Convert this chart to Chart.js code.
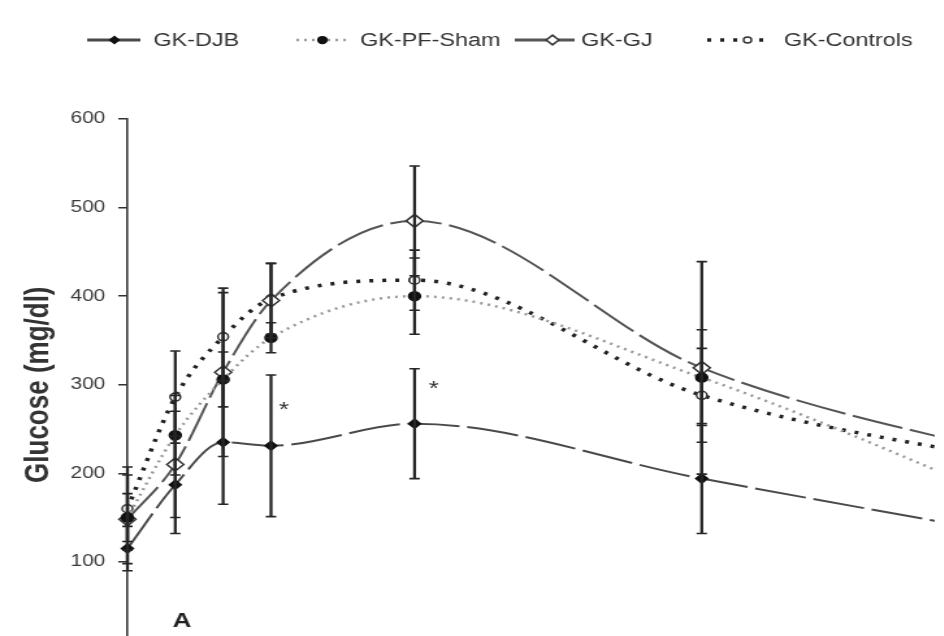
<!DOCTYPE html>
<html>
<head>
<meta charset="utf-8">
<script src="https://cdn.jsdelivr.net/npm/chart.js@4.4.1/dist/chart.umd.min.js"></script>
<style>
  html, body { margin: 0; padding: 0; background: #fff; }
  #wrap { width: 944px; height: 636px; overflow: hidden; position: relative; background: #fff; }
  /* the scanned figure is stretched sideways, so is the canvas */
  #glucoseChart { position: absolute; left: 0; top: 0; transform: scaleX(1.3); transform-origin: 0 0; }
</style>
</head>
<body>
<div id="wrap"><canvas id="glucoseChart" width="727" height="670"></canvas></div>
<script>
const times       = [0, 15, 30, 45, 90, 180, 300];
const seriesNames = ["GK-DJB", "GK-PF-Sham", "GK-GJ", "GK-Controls"];

const djb      = [115, 187, 235, 231, 256, 194, 116];
const pfSham   = [150, 243, 306, 353, 400, 308, 133];
const gj       = [148, 210, 314, 395, 485, 319, 201];
const controls = [160, 286, 354, 397, 418, 288, 199];

const djbErr      = [25, 55, 70, 80, 62, 62, 40];
const pfShamErr   = [27, 45, 31, 17, 43, 54, 40];
const gjErr       = [50, 60, 95, 42, 62, 120, 40];
const controlsErr = [47, 52, 50, 40, 34, 53, 40];

const yTicks     = [0, 100, 200, 300, 400, 500, 600];
const starTimes  = [49, 96];
const starValues = [277, 300];
const panelLabel = "A";

const seriesValues = [djb, pfSham, gj, controls];
const seriesErrors = [djbErr, pfShamErr, gjErr, controlsErr];

const styles = [
  { color: "#4a4a4a", width: 2,   dash: [40, 6], point: "rectRot", radius: 4.5, fill: "#111", stroke: "#111" },
  { color: "#9a9a9a", width: 2.5, dash: [2, 4],  point: "circle",  radius: 4.5, fill: "#111", stroke: "#111" },
  { color: "#555555", width: 2,   dash: [40, 6], point: "rectRot", radius: 6.5, fill: "#fff", stroke: "#333" },
  { color: "#222222", width: 3.5, dash: [3, 7],  point: "circle",  radius: 4,   fill: "#fff", stroke: "#333" }
];

const legendSpots = [
  { from: 67,  to: 108, marker: 88,  text: 118 },
  { from: 228, to: 268, marker: 248, text: 277 },
  { from: 396, to: 442, marker: 425, text: 447 },
  { from: 544, to: 591, marker: 575, text: 603 }
];

function drawMarker(ctx, s, x, y, r) {
  ctx.save();
  ctx.setLineDash([]);
  ctx.beginPath();
  if (s.point === "rectRot") {
    ctx.moveTo(x, y - r); ctx.lineTo(x + r, y); ctx.lineTo(x, y + r); ctx.lineTo(x - r, y);
    ctx.closePath();
  } else {
    ctx.arc(x, y, r, 0, Math.PI * 2);
  }
  ctx.fillStyle = s.fill;
  ctx.fill();
  ctx.lineWidth = 1.5;
  ctx.strokeStyle = s.stroke;
  ctx.stroke();
  ctx.restore();
}

const errorBars = {
  id: "errorBars",
  afterDatasetsDraw(chart) {
    const { ctx, scales: { x, y } } = chart;
    ctx.save();
    ctx.strokeStyle = "#262626";
    seriesValues.forEach((vals, i) => {
      vals.forEach((v, j) => {
        if (times[j] > x.max) return;
        const px = x.getPixelForValue(times[j]);
        const top = y.getPixelForValue(v + seriesErrors[i][j]);
        const bot = y.getPixelForValue(v - seriesErrors[i][j]);
        ctx.lineWidth = 2.3;
        ctx.beginPath();
        ctx.moveTo(px, top); ctx.lineTo(px, bot);
        ctx.stroke();
        ctx.lineWidth = 1.6;
        ctx.beginPath();
        ctx.moveTo(px - 4, top); ctx.lineTo(px + 4, top);
        ctx.moveTo(px - 4, bot); ctx.lineTo(px + 4, bot);
        ctx.stroke();
      });
    });
    ctx.restore();
  }
};

const extras = {
  id: "extras",
  afterDraw(chart) {
    const { ctx, scales: { x, y } } = chart;
    ctx.save();
    // legend
    ctx.font = "18px 'Liberation Sans', Arial, sans-serif";
    ctx.textBaseline = "middle";
    ctx.textAlign = "left";
    legendSpots.forEach((p, i) => {
      const s = styles[i];
      ctx.save();
      ctx.strokeStyle = s.color;
      ctx.lineWidth = s.point === "rectRot" ? 3 : s.width;
      ctx.setLineDash(s.point === "rectRot" ? [] : s.dash);
      ctx.beginPath();
      ctx.moveTo(p.from, 40); ctx.lineTo(p.to, 40);
      ctx.stroke();
      ctx.restore();
      drawMarker(ctx, s, p.marker, 40, s.radius * 0.75);
      ctx.fillStyle = "#333";
      ctx.fillText(seriesNames[i], p.text, 41);
    });
    // significance stars
    ctx.font = "20px 'Liberation Sans', Arial, sans-serif";
    ctx.textAlign = "center";
    starTimes.forEach((t, i) => {
      ctx.fillText("*", x.getPixelForValue(t), y.getPixelForValue(starValues[i]) + 5);
    });
    // panel letter
    ctx.font = "bold 20px 'Liberation Sans', Arial, sans-serif";
    ctx.fillStyle = "#222";
    ctx.fillText(panelLabel, 140, 621);
    ctx.restore();
  }
};

new Chart(document.getElementById("glucoseChart"), {
  type: "line",
  data: {
    datasets: seriesValues.map((vals, i) => ({
      label: seriesNames[i],
      data: times.map((t, j) => ({ x: t, y: vals[j] })),
      borderColor: styles[i].color,
      borderWidth: styles[i].width,
      borderDash: styles[i].dash,
      pointStyle: styles[i].point,
      pointRadius: styles[i].radius,
      pointBackgroundColor: styles[i].fill,
      pointBorderColor: styles[i].stroke,
      pointBorderWidth: 1.5,
      cubicInterpolationMode: "monotone",
      fill: false,
      clip: { left: 12, top: 12, right: 0, bottom: 12 }
    }))
  },
  options: {
    responsive: false,
    animation: false,
    events: [],
    layout: { padding: { top: 119, bottom: 15, left: 0, right: 0 } },
    plugins: { legend: { display: false }, tooltip: { enabled: false } },
    scales: {
      x: { type: "linear", min: 0, max: 253, display: false },
      y: {
        min: 0,
        max: 600,
        afterBuildTicks: scale => { scale.ticks = yTicks.map(v => ({ value: v })); },
        afterFit: scale => { scale.width = 98; },
        ticks: {
          color: "#3a3a3a",
          padding: 10,
          font: { family: "'Liberation Sans', Arial, sans-serif", size: 16 }
        },
        grid: { drawOnChartArea: false, drawTicks: true, tickLength: 7, color: "#333", lineWidth: 1.5 },
        border: { display: true, color: "#333", width: 1.6 },
        title: {
          display: true,
          text: "Glucose (mg/dl)",
          color: "#333",
          padding: { top: 14, bottom: 0 },
          font: { family: "'Liberation Sans', Arial, sans-serif", size: 26, weight: "bold" }
        }
      }
    }
  },
  plugins: [errorBars, extras]
});
</script>
</body>
</html>
